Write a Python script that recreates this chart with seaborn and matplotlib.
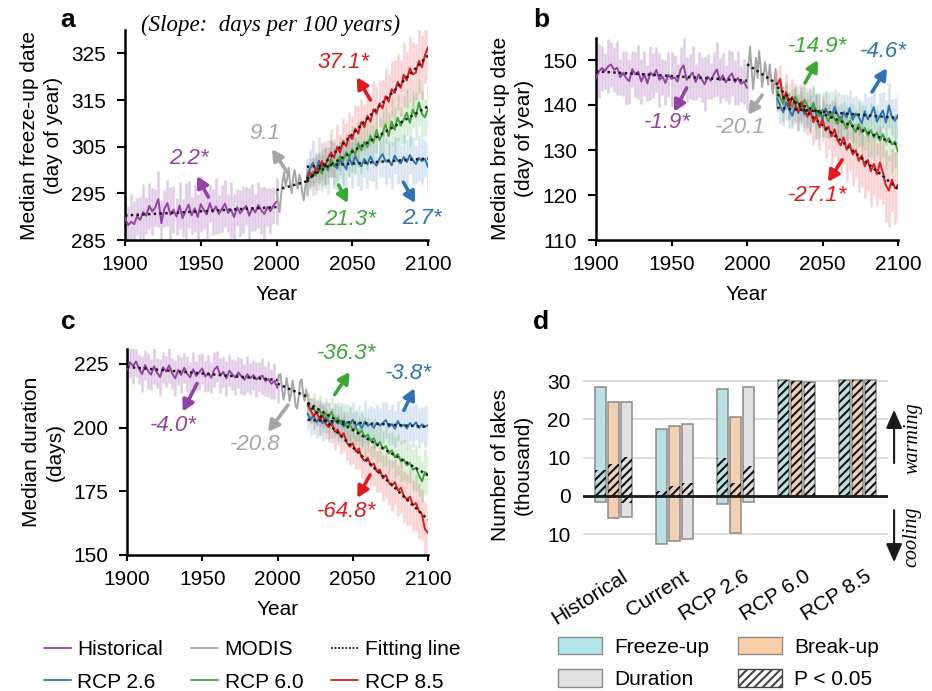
import numpy as np
import pandas as pd
import matplotlib
matplotlib.use("Agg")
import matplotlib.pyplot as plt
import matplotlib.transforms as mtransforms
from matplotlib.patches import Patch
from matplotlib.lines import Line2D
import seaborn as sns

# ---------------------------------------------------------------- data
hist_years = list(range(1900, 2001, 2))
modis_years = list(range(2000, 2021))
rcp_years = list(range(2020, 2101, 2))

# panel a: freeze-up date
fz_hist = [289.8, 288.2, 288.9, 288.4, 290.1, 289.3, 291.0, 290.2, 292.3, 291.1,
           292.0, 293.8, 288.6, 291.7, 292.9, 290.4, 291.5, 290.0, 292.4, 289.7,
           291.2, 292.6, 290.3, 291.8, 289.9, 292.7, 291.4, 290.5, 292.9, 291.0,
           292.2, 290.6, 291.7, 292.8, 290.8, 291.5, 289.9, 292.0, 290.7, 291.6,
           292.3, 290.2, 291.9, 290.9, 292.5, 291.3, 290.6, 292.1, 291.2, 292.4,
           293.2]
fz_hist_sd = [5, 4, 6, 5, 4, 5, 6, 4, 5, 5,
              4, 6, 5, 4, 5, 6, 5, 4, 5, 4,
              6, 5, 4, 5, 5, 6, 4, 5, 4, 5,
              6, 4, 5, 5, 4, 6, 5, 4, 5, 5,
              4, 6, 5, 4, 5, 5, 6, 4, 5, 4,
              5]
fz_modis = [295.5, 293.0, 291.0, 294.5, 297.5, 299.5, 296.5, 298.0, 300.5, 297.0,
            295.0, 298.5, 300.0, 297.5, 296.0, 299.0, 298.0, 295.0, 293.5, 296.5,
            297.5]
fz_26 = [298.5, 300.2, 301.5, 299.8, 302.0, 300.6, 301.2, 299.9, 302.3, 301.0,
         300.4, 302.1, 301.3, 300.2, 302.6, 301.1, 303.0, 301.5, 300.8, 302.4,
         301.2, 302.9, 301.6, 300.9, 302.5, 303.4, 301.8, 302.2, 301.0, 303.1,
         302.0, 301.4, 302.8, 301.7, 303.2, 302.1, 301.3, 302.6, 301.9, 302.4,
         300.6]
fz_26_sd = [4, 4, 5, 4, 5, 4, 5, 5, 4, 5,
            5, 4, 5, 5, 4, 5, 4, 5, 5, 4,
            5, 5, 4, 5, 4, 5, 5, 4, 5, 4,
            5, 4, 5, 5, 4, 5, 4, 5, 5, 4,
            5]
fz_60 = [297.5, 298.4, 299.6, 298.8, 300.5, 299.2, 301.0, 300.1, 302.4, 300.8,
         301.6, 303.0, 301.9, 303.8, 302.6, 304.5, 303.3, 305.6, 304.2, 306.0,
         304.9, 307.3, 305.8, 308.6, 306.4, 307.9, 309.8, 307.2, 310.4, 308.6,
         311.2, 309.5, 310.8, 312.3, 310.1, 313.0, 311.4, 314.5, 312.0, 311.3,
         313.2]
fz_60_sd = [3, 3, 3, 4, 3, 4, 4, 3, 4, 4,
            4, 4, 5, 4, 4, 5, 4, 5, 5, 4,
            5, 5, 4, 5, 5, 5, 4, 5, 5, 5,
            5, 4, 5, 5, 5, 4, 5, 5, 5, 4,
            5]
fz_85 = [297.8, 299.5, 298.6, 300.4, 299.8, 301.9, 300.7, 302.5, 303.8, 302.6,
         304.9, 303.7, 306.2, 305.1, 307.4, 306.6, 308.9, 307.8, 310.3, 309.2,
         311.6, 310.4, 313.0, 312.1, 314.3, 313.2, 315.8, 314.6, 317.3, 316.5,
         318.9, 317.6, 320.4, 319.2, 321.8, 320.5, 320.9, 323.4, 322.0, 324.6,
         326.3]
fz_85_sd = [3, 3, 4, 3, 4, 4, 4, 4, 5, 4,
            5, 4, 5, 5, 5, 5, 5, 6, 5, 5,
            6, 5, 6, 6, 5, 6, 6, 6, 6, 7,
            6, 6, 7, 6, 7, 7, 6, 7, 7, 6,
            7]

# panel b: break-up date
bk_hist = [146.0, 147.5, 148.2, 147.6, 148.6, 149.0, 147.8, 148.3, 146.2, 147.1,
           146.0, 145.3, 148.0, 146.8, 147.4, 145.2, 146.9, 144.8, 147.2, 146.5,
           147.8, 145.6, 146.3, 144.9, 146.7, 145.8, 146.1, 145.2, 147.9, 148.8,
           145.6, 146.4, 147.2, 145.1, 146.8, 145.7, 144.6, 146.3, 145.4, 146.8,
           147.9, 145.5, 146.6, 145.0, 146.2, 147.0, 145.1, 146.0, 144.7, 145.2,
           143.8]
bk_hist_sd = [5, 6, 5, 4, 6, 5, 5, 6, 4, 5,
              6, 5, 4, 5, 6, 5, 5, 4, 6, 5,
              5, 6, 4, 5, 5, 6, 5, 4, 5, 6,
              5, 5, 6, 4, 5, 5, 6, 5, 4, 5,
              6, 5, 5, 4, 6, 5, 5, 6, 4, 5,
              5]
bk_modis = [145.0, 149.0, 153.0, 148.0, 143.5, 147.0, 150.5, 146.0, 152.0, 148.5,
            144.0, 146.5, 149.5, 147.0, 144.5, 149.0, 146.0, 142.5, 145.0, 148.0,
            139.5]
bk_26 = [141.5, 139.8, 138.4, 140.6, 138.9, 137.6, 139.7, 138.2, 140.1, 137.9,
         139.0, 138.3, 140.4, 137.5, 138.8, 136.9, 139.2, 138.0, 137.1, 139.6,
         137.8, 136.5, 138.4, 137.2, 139.3, 136.7, 138.1, 137.4, 135.9, 138.6,
         136.8, 137.9, 139.5, 136.3, 137.6, 138.8, 136.1, 139.9, 137.3, 136.5,
         137.8]
bk_26_sd = [3, 4, 3, 4, 4, 3, 4, 4, 4, 3,
            4, 4, 4, 5, 4, 4, 4, 5, 4, 4,
            5, 4, 4, 5, 4, 5, 4, 4, 5, 4,
            5, 4, 5, 4, 5, 4, 5, 5, 4, 5,
            5]
bk_60 = [143.0, 141.6, 140.2, 142.4, 140.8, 139.5, 141.9, 140.3, 139.1, 141.2,
         139.8, 138.4, 140.1, 138.7, 137.5, 139.0, 137.8, 136.4, 138.2, 136.9,
         135.8, 137.4, 136.0, 134.8, 136.5, 135.2, 134.0, 135.7, 133.9, 134.9,
         133.2, 134.4, 132.8, 133.9, 132.1, 133.5, 131.8, 132.6, 131.2, 131.9,
         129.6]
bk_60_sd = [3, 3, 4, 3, 4, 4, 3, 4, 4, 4,
            4, 5, 4, 4, 5, 4, 5, 4, 5, 5,
            4, 5, 5, 5, 4, 5, 5, 5, 6, 5,
            5, 6, 5, 5, 6, 5, 6, 5, 6, 6,
            6]
bk_85 = [144.5, 145.8, 141.2, 142.9, 139.6, 141.8, 140.2, 138.5, 140.7, 139.0,
         137.4, 138.8, 136.2, 137.5, 135.1, 136.9, 134.3, 135.2, 133.0, 134.6,
         132.2, 131.0, 132.8, 130.1, 131.4, 129.0, 129.9, 127.6, 128.8, 126.4,
         127.8, 125.3, 126.9, 124.6, 127.2, 125.0, 122.1, 121.0, 123.4, 121.5,
         122.3]
bk_85_sd = [3, 3, 3, 4, 3, 4, 4, 4, 4, 5,
            4, 5, 5, 5, 5, 5, 6, 5, 6, 6,
            6, 6, 6, 7, 6, 7, 6, 7, 7, 7,
            7, 8, 7, 7, 8, 7, 8, 8, 7, 8,
            8]

# panel c: duration
du_hist = [222.8, 225.6, 224.2, 226.0, 223.1, 221.0, 224.6, 222.3, 220.8, 224.1,
           221.5, 219.9, 223.7, 222.0, 224.5, 221.3, 219.4, 222.6, 220.7, 223.5,
           221.1, 219.8, 222.9, 220.3, 221.8, 223.2, 220.1, 221.4, 219.6, 222.8,
           224.0, 220.5, 221.9, 219.3, 222.4, 220.8, 219.7, 221.6, 220.2, 218.8,
           221.0, 219.4, 220.6, 218.9, 219.9, 220.4, 218.3, 219.1, 217.2, 218.4,
           215.6]
du_hist_sd = [7, 6, 7, 6, 6, 7, 6, 7, 6, 7,
              6, 7, 6, 6, 7, 6, 7, 6, 7, 6,
              7, 6, 7, 6, 7, 6, 6, 7, 6, 7,
              6, 7, 6, 7, 6, 6, 7, 6, 7, 6,
              7, 6, 6, 7, 6, 7, 6, 7, 6, 7,
              6]
du_modis = [218.0, 220.5, 221.0, 215.5, 211.0, 214.5, 219.5, 216.0, 210.5, 213.0,
            218.5, 214.0, 208.5, 207.5, 212.0, 218.0, 219.0, 213.5, 210.5, 215.0,
            212.0]
du_26 = [205.5, 203.2, 204.6, 202.1, 203.8, 201.7, 204.0, 202.5, 200.9, 203.3,
         201.6, 202.8, 200.4, 202.2, 201.0, 203.1, 200.6, 201.9, 199.8, 202.4,
         200.7, 201.5, 199.9, 202.0, 200.8, 201.9, 203.0, 200.3, 201.4, 199.6,
         202.6, 200.5, 201.2, 199.7, 201.8, 200.6, 202.1, 199.9, 201.3, 200.4,
         201.0]
du_26_sd = [6, 6, 7, 6, 7, 7, 6, 7, 7, 6,
            7, 7, 6, 7, 7, 7, 6, 7, 7, 8,
            7, 7, 8, 7, 7, 8, 7, 7, 8, 7,
            8, 7, 7, 8, 7, 8, 7, 8, 7, 8,
            8]
du_60 = [208.5, 206.9, 207.8, 205.6, 206.8, 204.2, 205.7, 203.9, 206.2, 202.8,
         203.9, 201.5, 202.7, 200.3, 201.4, 199.2, 200.1, 197.6, 198.9, 196.2,
         197.3, 194.8, 195.9, 193.1, 194.4, 191.6, 192.8, 189.9, 191.1, 188.4,
         189.6, 186.7, 187.4, 185.2, 186.1, 183.5, 184.3, 181.2, 178.9, 182.6,
         181.4]
du_60_sd = [5, 5, 6, 5, 6, 6, 6, 6, 6, 7,
            6, 7, 7, 6, 7, 7, 7, 7, 7, 8,
            7, 7, 8, 7, 8, 7, 8, 8, 7, 8,
            8, 8, 8, 7, 8, 8, 9, 8, 8, 9,
            8]
du_85 = [209.5, 206.8, 204.5, 206.2, 203.1, 204.8, 201.6, 200.2, 201.9, 198.4,
         199.3, 196.6, 197.8, 194.2, 192.5, 193.9, 190.6, 191.8, 188.3, 186.9,
         188.2, 185.0, 185.9, 182.8, 183.6, 180.1, 181.4, 178.5, 177.2, 178.6,
         175.3, 176.4, 173.1, 171.8, 172.9, 169.6, 170.4, 167.2, 165.9, 160.1,
         158.7]
du_85_sd = [4, 5, 5, 5, 6, 5, 6, 6, 6, 7,
            6, 7, 7, 7, 7, 8, 7, 8, 8, 8,
            8, 8, 9, 8, 9, 9, 9, 9, 10, 9,
            10, 10, 10, 10, 11, 10, 11, 11, 10, 11,
            11]

# slope labels (days per 100 years): historical, MODIS, RCP2.6, RCP6.0, RCP8.5
slopes_a = ["2.2*", "9.1", "2.7*", "21.3*", "37.1*"]
slopes_b = ["-1.9*", "-20.1", "-4.6*", "-14.9*", "-27.1*"]
slopes_c = ["-4.0*", "-20.8", "-3.8*", "-36.3*", "-64.8*"]

# panel d: number of lakes (thousand)
categories = ["Historical", "Current", "RCP 2.6", "RCP 6.0", "RCP 8.5"]
metrics = ["Freeze-up", "Break-up", "Duration"]
warm_fz = [28.5, 17.4, 27.9, 30.3, 30.2]
warm_bk = [24.6, 18.3, 20.5, 30.1, 30.2]
warm_du = [24.6, 18.8, 28.5, 29.8, 30.2]
cool_fz = [1.5, 12.6, 2.2, 0.0, 0.0]
cool_bk = [5.8, 11.7, 9.7, 0.0, 0.0]
cool_du = [5.5, 11.2, 1.5, 0.0, 0.0]
sigw_fz = [6.8, 1.4, 9.8, 30.3, 30.2]
sigw_bk = [8.3, 2.6, 3.3, 30.1, 30.2]
sigw_du = [10.3, 3.3, 7.7, 29.8, 30.2]
sigc_du = [1.7, 0.0, 0.0, 0.0, 0.0]

# ---------------------------------------------------------------- style
sns.set_theme(style="ticks")
plt.rcParams["font.family"] = ["Liberation Sans", "DejaVu Sans"]
for k in ["text.color", "axes.labelcolor", "xtick.color", "ytick.color", "axes.edgecolor"]:
    plt.rcParams[k] = "black"
plt.rcParams["axes.linewidth"] = 1.8
plt.rcParams["hatch.linewidth"] = 1.5

FS = 15
SERIF = ["Liberation Serif", "DejaVu Serif"]
C_HIST = "#9442a8"
C_MODIS = "#a6a6a6"
C26 = "#2e75b6"
C60 = "#3aa935"
C85 = "#e5191c"
RCP_COLORS = [C26, C60, C85]
LABEL_COLORS = [C_HIST, C_MODIS, C26, C60, C85]
BAR_COLORS = ["#b3e6e8", "#fdcfa6", "#e1e1e1"]
BAR_EDGE = "#8a8a8a"

fig = plt.figure(figsize=(9.32, 6.91), dpi=100)
W, H = 932.0, 691.0


def px_axes(left, top, right, bottom):
    return fig.add_axes([left / W, 1 - bottom / H, (right - left) / W, (bottom - top) / H])


ax_a = px_axes(125, 30, 428, 240)
ax_b = px_axes(596, 37.5, 898, 240)
ax_c = px_axes(127, 348.7, 428, 555)
ax_d = px_axes(583, 373.4, 888, 557.3)


def draw_ts(ax, hist, hist_sd, modis, rcps, rcp_sds):
    h = np.asarray(hist, float)
    hs = np.asarray(hist_sd, float)
    ax.vlines(hist_years, h - hs, h + hs, color=C_HIST, alpha=0.28, lw=1.8, zorder=1)
    for vals, sd, c in list(zip(rcps, rcp_sds, RCP_COLORS))[::-1]:
        v = np.asarray(vals, float)
        s = np.asarray(sd, float)
        ax.vlines(rcp_years, v - s, v + s, color=c, alpha=0.2, lw=1.8, zorder=1)
    sns.lineplot(x=hist_years, y=hist, color=C_HIST, lw=1.4, ax=ax, zorder=3)
    sns.lineplot(x=modis_years, y=modis, color=C_MODIS, lw=1.4, ax=ax, zorder=3)
    for vals, c in zip(rcps, RCP_COLORS):
        sns.lineplot(x=rcp_years, y=vals, color=c, lw=1.4, ax=ax, zorder=3)
    series = [(hist_years, hist), (modis_years, modis)] + [(rcp_years, r) for r in rcps]
    for xs, ys in series:
        sns.regplot(x=xs, y=ys, scatter=False, ci=None, truncate=True, ax=ax, color="k",
                    line_kws=dict(ls=(0, (1, 1.3)), lw=1.8, zorder=5))


def slope_labels(ax, labels, layout):
    for lab, (txy, tail, head), c in zip(labels, layout, LABEL_COLORS):
        ax.annotate("", xy=head, xytext=tail,
                    arrowprops=dict(arrowstyle="-|>,head_length=0.5,head_width=0.27",
                                    color=c, lw=2.6, shrinkA=0, shrinkB=0, mutation_scale=13),
                    zorder=6, annotation_clip=False)
        ax.text(txy[0], txy[1], lab, color=c, fontsize=16, style="italic",
                ha="center", va="center", zorder=6)


def style_ts(ax, ylim, yticks, ylabel):
    ax.set_xlim(1900, 2100)
    ax.set_ylim(*ylim)
    ax.set_xticks(range(1900, 2101, 50))
    ax.set_yticks(yticks)
    ax.tick_params(axis="y", direction="out", length=5.5, width=1.5, labelsize=FS, pad=8)
    ax.tick_params(axis="x", direction="out", length=4, width=1.5, labelsize=FS, pad=7)
    sns.despine(ax=ax)
    ax.set_xlabel("Year", fontsize=FS, labelpad=8)
    ax.set_ylabel(ylabel, fontsize=FS, linespacing=1.3, labelpad=6)


# ---- panel a
draw_ts(ax_a, fz_hist, fz_hist_sd, fz_modis, [fz_26, fz_60, fz_85], [fz_26_sd, fz_60_sd, fz_85_sd])
style_ts(ax_a, (285, 330), range(285, 326, 10), "Median freeze-up date\n(day of year)")
slope_labels(ax_a, slopes_a, [
    ((1942, 302.5), (1955, 294.2), (1947.5, 298.7)),
    ((1992.4, 307.9), (2007, 299.5), (1997, 304.5)),
    ((2096, 289.7), (2083.7, 297.4), (2091.5, 292.9)),
    ((2048.5, 289.3), (2041, 296.8), (2047, 292.9)),
    ((2044, 323), (2062, 315), (2053, 319.9)),
])

# ---- panel b
draw_ts(ax_b, bk_hist, bk_hist_sd, bk_modis, [bk_26, bk_60, bk_85], [bk_26_sd, bk_60_sd, bk_85_sd])
style_ts(ax_b, (110, 155), range(110, 151, 10), "Median break-up date\n(day of year)")
slope_labels(ax_b, slopes_b, [
    ((1947, 136), (1960, 143.8), (1951.7, 138.5)),
    ((1995.4, 134.9), (2010, 142.2), (2000.7, 137.8)),
    ((2090, 151.8), (2082.8, 142.9), (2092.7, 148.2)),
    ((2047, 152.9), (2038.4, 144.9), (2047, 150)),
    ((2047, 120), (2063, 127.8), (2053.6, 122.9)),
])

# ---- panel c
draw_ts(ax_c, du_hist, du_hist_sd, du_modis, [du_26, du_60, du_85], [du_26_sd, du_60_sd, du_85_sd])
style_ts(ax_c, (150, 231), range(150, 226, 25), "Median duration\n(days)")
slope_labels(ax_c, slopes_c, [
    ((1930.6, 200.8), (1946.5, 217.3), (1937, 206.3)),
    ((1985, 193.2), (2007, 208.9), (1993.7, 198.3)),
    ((2087, 221.3), (2084, 206.8), (2091, 215.5)),
    ((2046, 229), (2038, 213), (2048, 221.9)),
    ((2046, 166.9), (2061.5, 181.4), (2053, 172.4)),
])

# ---- panel d
def long_df(a, b, c):
    return pd.DataFrame({
        "category": categories * 3,
        "metric": [m for m in metrics for _ in categories],
        "value": list(a) + list(b) + list(c),
    })


warm_df = long_df(warm_fz, warm_bk, warm_du)
cool_df = long_df(cool_fz, cool_bk, cool_du)
cool_df["value"] = -cool_df["value"]
sigw_df = long_df(sigw_fz, sigw_bk, sigw_du)
sigc_df = long_df([0] * 5, [0] * 5, sigc_du)
sigc_df["value"] = -sigc_df["value"]

pal = dict(zip(metrics, BAR_COLORS))
bar_kw = dict(x="category", y="value", hue="metric", order=categories, hue_order=metrics,
              width=0.66, gap=0.17, errorbar=None, legend=False, ax=ax_d)
for df in (warm_df, cool_df):
    sns.barplot(data=df, palette=pal, edgecolor=BAR_EDGE, linewidth=1.1, zorder=2, **bar_kw)
for df in (sigw_df, sigc_df):
    sns.barplot(data=df, palette=pal, facecolor="none", edgecolor="#111111", linewidth=0,
                hatch="////", zorder=3, **bar_kw)

ax_d.set_xlim(-0.5, 4.5)
ax_d.set_ylim(-16, 32)
ax_d.set_yticks([-10, 0, 10, 20, 30])
ax_d.set_yticklabels(["10", "0", "10", "20", "30"])
for yv in [-10, 10, 20, 30]:
    ax_d.axhline(yv, color="#d9d9d9", lw=1.3, zorder=0)
ax_d.axhline(0, color="k", lw=2.0, zorder=4)
ax_d.tick_params(axis="y", length=0, labelsize=FS, pad=9)
ax_d.set_xticks([])
ax_d.set_xlabel("")
ax_d.set_ylabel("Number of lakes\n(thousand)", fontsize=FS, linespacing=1.3, labelpad=10)
sns.despine(ax=ax_d, left=True, bottom=True)
blend = mtransforms.blended_transform_factory(ax_d.transData, ax_d.transAxes)
for i, cat in enumerate(categories):
    ax_d.annotate(cat, xy=(i, 0), xycoords=blend, xytext=(9, -12.7), textcoords="offset points",
                  rotation=32, ha="right", va="center", rotation_mode="anchor", fontsize=FS,
                  annotation_clip=False)
side = mtransforms.blended_transform_factory(ax_d.transAxes, ax_d.transData)
arrow_kw = dict(arrowstyle="-|>,head_length=0.8,head_width=0.35", color="k", lw=1.5,
                shrinkA=0, shrinkB=0, mutation_scale=14)
ax_d.annotate("", xy=(1.02, 22.5), xytext=(1.02, 8.6), xycoords=side, textcoords=side,
              arrowprops=arrow_kw, annotation_clip=False)
ax_d.annotate("", xy=(1.02, -17.3), xytext=(1.02, -3.7), xycoords=side, textcoords=side,
              arrowprops=arrow_kw, annotation_clip=False)
ax_d.text(1.082, 15, "warming", transform=side, rotation=90, ha="center", va="center",
          family=SERIF, style="italic", fontsize=14.5)
ax_d.text(1.079, -10.6, "cooling", transform=side, rotation=90, ha="center", va="center",
          family=SERIF, style="italic", fontsize=14.5)

# ---- titles, letters
fig.text(271 / W, 1 - 25 / H, "(Slope:  days per 100 years)", family=SERIF, style="italic",
         fontsize=16.5, ha="center", va="center")
for letter, (x, y) in zip("abcd", [(68, 20), (541, 20), (68, 322), (541, 322)]):
    fig.text(x / W, 1 - y / H, letter, fontsize=19, fontweight="bold", ha="center", va="center")

# ---- legends
line_handles = [
    Line2D([], [], color=C_HIST, lw=1.3), Line2D([], [], color=C26, lw=1.3),
    Line2D([], [], color=C_MODIS, lw=1.3), Line2D([], [], color=C60, lw=1.3),
    Line2D([], [], color="k", lw=1.3, ls=(0, (1, 1))), Line2D([], [], color=C85, lw=1.3),
]
line_labels = ["Historical", "RCP 2.6", "MODIS", "RCP 6.0", "Fitting line", "RCP 8.5"]
fig.legend(line_handles, line_labels, ncol=3, loc="upper left",
           bbox_to_anchor=(44 / W, 1 - 640 / H), frameon=False, fontsize=FS,
           handlelength=1.3, handletextpad=0.3, columnspacing=1.35, labelspacing=0.65,
           borderpad=0, borderaxespad=0)

patch_handles = [
    Patch(facecolor=BAR_COLORS[0], edgecolor=BAR_EDGE),
    Patch(facecolor=BAR_COLORS[2], edgecolor=BAR_EDGE),
    Patch(facecolor=BAR_COLORS[1], edgecolor=BAR_EDGE),
    Patch(facecolor="white", edgecolor="#444444", hatch="////"),
]
patch_labels = ["Freeze-up", "Duration", "Break-up", "P < 0.05"]
fig.legend(patch_handles, patch_labels, ncol=2, loc="upper left",
           bbox_to_anchor=(558 / W, 1 - 637 / H), frameon=False, fontsize=FS,
           handlelength=2.1, handleheight=0.9, handletextpad=0.58, columnspacing=1.4,
           labelspacing=0.6, borderpad=0, borderaxespad=0)

fig.savefig("out.png", dpi=100)
